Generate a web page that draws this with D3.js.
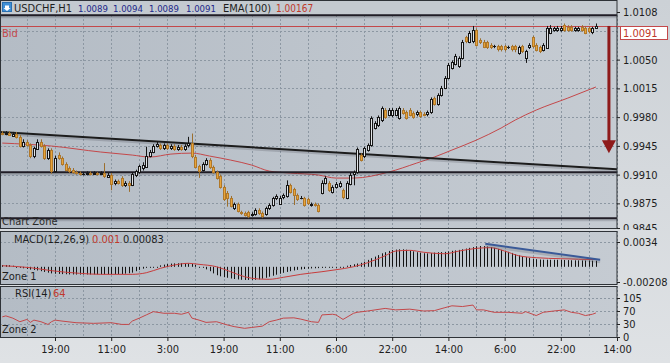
<!DOCTYPE html>
<html>
<head>
<meta charset="utf-8">
<script src="https://cdnjs.cloudflare.com/ajax/libs/d3/7.8.5/d3.min.js"></script>
<style>
  body { margin: 0; background: #cfd3d7; }
  svg { display: block; font-family: "Liberation Sans Narrow", "DejaVu Sans Condensed", sans-serif; }
</style>
</head>
<body>
<svg id="chart"></svg>
<script>
// USDCHF H1 candles, bar 0 .. 169
const opens = [
  0.9961,0.9960,0.9961,0.9958,0.9960,0.9956,0.9945,0.9950,0.9946,0.9932,
  0.9942,0.9950,0.9945,0.9930,0.9940,0.9914,0.9934,0.9930,0.9923,0.9918,
  0.9916,0.9913,0.9912,0.9911,0.9911,0.9912,0.9911,0.9912,0.9911,0.9912,
  0.9908,0.9910,0.9899,0.9902,0.9906,0.9897,0.9900,0.9898,0.9909,0.9913,
  0.9918,0.9920,0.9933,0.9938,0.9945,0.9946,0.9942,0.9946,0.9942,0.9945,
  0.9941,0.9944,0.9941,0.9945,0.9948,0.9932,0.9920,0.9916,0.9923,0.9928,
  0.9919,0.9913,0.9908,0.9895,0.9888,0.9882,0.9869,0.9874,0.9864,0.9863,
  0.9864,0.9861,0.9862,0.9867,0.9863,0.9862,0.9869,0.9873,0.9881,0.9875,
  0.9882,0.9884,0.9897,0.9892,0.9885,0.9882,0.9881,0.9880,0.9873,0.9874,
  0.9873,0.9888,0.9900,0.9900,0.9889,0.9895,0.9896,0.9891,0.9882,0.9899,
  0.9910,0.9913,0.9934,0.9932,0.9940,0.9946,0.9967,0.9970,0.9976,0.9989,
  0.9983,0.9983,0.9983,0.9979,0.9989,0.9986,0.9989,0.9985,0.9983,0.9986,
  0.9984,0.9983,0.9986,1.0003,0.9996,1.0007,1.0016,1.0028,1.0040,1.0045,
  1.0042,1.0052,1.0077,1.0072,1.0072,1.0086,1.0074,1.0072,1.0071,1.0068,
  1.0066,1.0066,1.0066,1.0066,1.0065,1.0066,1.0066,1.0058,1.0066,1.0052,
  1.0065,1.0077,1.0068,1.0065,1.0062,1.0065,1.0083,1.0086,1.0086,1.0086,
  1.0092,1.0090,1.0090,1.0086,1.0086,1.0090,1.0089,1.0088,1.0083,1.0089
];
const highs = [
  0.9963,0.9963,0.9963,0.9962,0.9962,0.9958,0.9953,0.9952,0.9948,0.9944,
  0.9953,0.9953,0.9947,0.9942,0.9942,0.9933,0.9937,0.9932,0.9925,0.9920,
  0.9918,0.9915,0.9914,0.9913,0.9914,0.9914,0.9914,0.9913,0.9914,0.9924,
  0.9912,0.9912,0.9904,0.9904,0.9908,0.9902,0.9902,0.9913,0.9916,0.9922,
  0.9925,0.9944,0.9940,0.9947,0.9950,0.9948,0.9948,0.9948,0.9947,0.9947,
  0.9946,0.9946,0.9947,0.9956,0.9960,0.9934,0.9922,0.9925,0.9930,0.9930,
  0.9921,0.9915,0.9910,0.9897,0.9890,0.9884,0.9876,0.9876,0.9866,0.9865,
  0.9866,0.9864,0.9869,0.9869,0.9865,0.9871,0.9875,0.9883,0.9886,0.9884,
  0.9887,0.9903,0.9899,0.9894,0.9887,0.9884,0.9883,0.9882,0.9876,0.9876,
  0.9875,0.9903,0.9908,0.9902,0.9897,0.9901,0.9902,0.9893,0.9902,0.9912,
  0.9915,0.9943,0.9936,0.9944,0.9948,0.9981,0.9975,0.9982,0.9993,0.9991,
  0.9991,0.9991,0.9991,0.9993,0.9991,0.9988,0.9991,0.9987,0.9988,0.9988,
  0.9986,0.9988,1.0004,1.0005,1.0009,1.0018,1.0030,1.0046,1.0049,1.0057,
  1.0054,1.0074,1.0079,1.0085,1.0091,1.0088,1.0076,1.0074,1.0073,1.0070,
  1.0068,1.0068,1.0068,1.0068,1.0067,1.0068,1.0068,1.0067,1.0068,1.0062,
  1.0070,1.0079,1.0070,1.0067,1.0070,1.0091,1.0092,1.0090,1.0091,1.0091,
  1.0094,1.0092,1.0092,1.0090,1.0090,1.0092,1.0091,1.0090,1.0090,1.0094
];
const lows = [
  0.9958,0.9958,0.9957,0.9956,0.9954,0.9943,0.9943,0.9944,0.9930,0.9930,
  0.9940,0.9943,0.9928,0.9928,0.9911,0.9912,0.9928,0.9921,0.9914,0.9912,
  0.9911,0.9910,0.9909,0.9909,0.9909,0.9909,0.9910,0.9909,0.9910,0.9906,
  0.9906,0.9891,0.9897,0.9898,0.9895,0.9895,0.9889,0.9896,0.9907,0.9911,
  0.9915,0.9918,0.9931,0.9936,0.9943,0.9940,0.9940,0.9940,0.9940,0.9939,
  0.9939,0.9939,0.9939,0.9943,0.9930,0.9918,0.9906,0.9914,0.9921,0.9917,
  0.9911,0.9904,0.9893,0.9878,0.9871,0.9870,0.9867,0.9864,0.9861,0.9859,
  0.9857,0.9859,0.9860,0.9861,0.9857,0.9860,0.9867,0.9871,0.9879,0.9873,
  0.9880,0.9882,0.9887,0.9873,0.9878,0.9880,0.9871,0.9873,0.9871,0.9871,
  0.9864,0.9886,0.9898,0.9889,0.9887,0.9893,0.9894,0.9880,0.9880,0.9897,
  0.9897,0.9911,0.9926,0.9930,0.9938,0.9944,0.9965,0.9968,0.9974,0.9978,
  0.9981,0.9980,0.9981,0.9977,0.9983,0.9977,0.9981,0.9978,0.9981,0.9979,
  0.9981,0.9981,0.9984,0.9994,0.9994,1.0005,1.0014,1.0026,1.0038,1.0043,
  1.0040,1.0050,1.0070,1.0070,1.0070,1.0066,1.0069,1.0064,1.0063,1.0063,
  1.0064,1.0060,1.0060,1.0060,1.0063,1.0060,1.0059,1.0056,1.0058,1.0046,
  1.0063,1.0064,1.0060,1.0058,1.0060,1.0063,1.0081,1.0084,1.0084,1.0084,
  1.0084,1.0084,1.0084,1.0084,1.0084,1.0084,1.0081,1.0082,1.0081,1.0089
];
const closes = [
  0.9960,0.9961,0.9958,0.9960,0.9956,0.9945,0.9950,0.9946,0.9932,0.9942,
  0.9950,0.9945,0.9930,0.9940,0.9914,0.9930,0.9930,0.9923,0.9916,0.9914,
  0.9913,0.9912,0.9911,0.9911,0.9912,0.9911,0.9912,0.9911,0.9912,0.9908,
  0.9910,0.9899,0.9902,0.9900,0.9897,0.9900,0.9898,0.9911,0.9914,0.9920,
  0.9922,0.9933,0.9938,0.9945,0.9947,0.9942,0.9946,0.9942,0.9945,0.9941,
  0.9944,0.9941,0.9945,0.9948,0.9932,0.9920,0.9914,0.9923,0.9928,0.9919,
  0.9913,0.9906,0.9895,0.9880,0.9882,0.9872,0.9874,0.9866,0.9863,0.9861,
  0.9859,0.9862,0.9867,0.9863,0.9859,0.9869,0.9873,0.9881,0.9884,0.9882,
  0.9885,0.9897,0.9889,0.9885,0.9880,0.9882,0.9873,0.9875,0.9874,0.9873,
  0.9866,0.9900,0.9906,0.9891,0.9895,0.9899,0.9900,0.9882,0.9900,0.9910,
  0.9913,0.9941,0.9928,0.9942,0.9946,0.9979,0.9973,0.9980,0.9991,0.9980,
  0.9989,0.9989,0.9989,0.9991,0.9985,0.9979,0.9983,0.9980,0.9986,0.9981,
  0.9983,0.9986,1.0002,0.9996,1.0007,1.0016,1.0028,1.0044,1.0047,1.0055,
  1.0052,1.0072,1.0072,1.0083,1.0086,1.0068,1.0071,1.0066,1.0065,1.0065,
  1.0066,1.0062,1.0062,1.0062,1.0065,1.0062,1.0062,1.0065,1.0060,1.0060,
  1.0068,1.0066,1.0062,1.0060,1.0068,1.0089,1.0089,1.0088,1.0089,1.0089,
  1.0086,1.0086,1.0086,1.0088,1.0088,1.0086,1.0083,1.0084,1.0088,1.0091
];

// EMA(100) read at some bars
const emaBars = [0,14,28,37,42,48,54,59,65,71, 76,82,90,95,100,110,118,123,128,135, 142,146,152,161,169];
const emaValues = [0.99484,0.99448,0.99375,0.99338,0.99314,0.99350,0.99362,0.99326,0.99277,0.99216,
  0.99143,0.99119,0.99095,0.99058,0.99058,0.99131,0.99241,0.99314,0.99399,0.99521,
  0.99667,0.99764,0.99886,1.00032,1.00167];

// MACD histogram, one per bar
const macdHist = [
  0.00025,0.00025,0.00022,0.00015,0.00005,-0.0001,-0.0002,-0.0003,-0.00038,-0.00044,
  -0.0005,-0.0006,-0.0007,-0.0008,-0.0009,-0.00095,-0.00097,-0.001,-0.00102,-0.00104,
  -0.00105,-0.00106,-0.00106,-0.00106,-0.00105,-0.00105,-0.00104,-0.00104,-0.00103,-0.00103,
  -0.00102,-0.00102,-0.00101,-0.001,-0.00098,-0.00094,-0.00088,-0.0008,-0.0006,-0.00042,
  -0.00025,-0.00012,-0.00004,0.00003,0.0001,0.0002,0.0003,0.00038,0.00044,0.00047,
  0.00049,0.0005,0.00049,0.00046,0.0004,0.00025,0.0001,-0.0001,-0.00035,-0.0006,
  -0.0009,-0.00115,-0.0013,-0.00142,-0.0015,-0.0016,-0.00167,-0.00173,-0.00178,-0.0018,
  -0.0018,-0.0018,-0.00178,-0.00172,-0.00162,-0.0015,-0.00136,-0.00122,-0.00108,-0.00095,
  -0.00082,-0.0007,-0.0006,-0.0005,-0.00042,-0.00036,-0.0003,-0.00026,-0.00022,-0.0002,
  -0.00018,-0.00015,-0.00012,-0.0001,-0.00008,-0.00005,0,0.00008,0.00015,0.00025,
  0.00035,0.00045,0.00055,0.0007,0.00095,0.00118,0.0014,0.0016,0.00185,0.002,
  0.00218,0.0023,0.00236,0.0024,0.0024,0.00235,0.00225,0.00212,0.002,0.00192,
  0.00186,0.00184,0.00188,0.00195,0.002,0.00202,0.00205,0.00212,0.0022,0.00225,
  0.00232,0.0024,0.0025,0.0026,0.0027,0.00282,0.00285,0.00284,0.00278,0.0027,
  0.0026,0.00245,0.00232,0.0022,0.00205,0.0019,0.00172,0.00158,0.00145,0.00133,
  0.0012,0.00112,0.00105,0.001,0.00097,0.00097,0.00097,0.00096,0.00096,0.00095,
  0.00094,0.00092,0.0009,0.00089,0.00088,0.00087,0.00086,0.00085,0.00084,0.00083
];
// MACD signal line read at some bars
const sigBars = [0,8,14,22,28,37,41,45,49,53, 56,61,65,69,73,76,80,85,91,95, 100,104,109,112,116,120,126,130,135,139, 143,147,152,159,169];
const sigValues = [0.00015,-0.00012,-0.00053,-0.00089,-0.00103,-0.00103,-0.00081,-0.00021,0.00025,0.00048,
  0.00034,0.00001,-0.00067,-0.00136,-0.00167,-0.00171,-0.00144,-0.00103,-0.00067,-0.0004,
  0.00001,0.00056,0.00152,0.00216,0.00226,0.00199,0.00179,0.00216,0.00253,0.00262,
  0.00216,0.00152,0.00125,0.00111,0.001];

// RSI(14) read at some bars
const rsiBars = [0,1,3,5,7,8,9,11,13,14, 15,17,21,26,31,34,36,37,39,41,
  43,46,49,51,53,54,56,58,61,64, 66,69,71,74,76,78,80,83,85,88,
  90,91,94,95,97,100,101,104,109,112, 116,120,123,126,128,131,134,135,137,140,
  144,148,149,152,154,157,160,162,164,166, 168,169];
const rsiValues = [52,55,48,37,44,35,42,37,29,37, 42,39,34,32,34,29,29,39,48,58,
  68,63,63,60,66,48,42,35,37,28, 24,20,22,25,37,42,48,49,45,37,
  35,58,60,58,44,63,66,70,77,73, 75,70,71,79,84,82,86,73,73,66,
  66,63,68,56,66,70,73,66,63,56, 60,64];

// drawn objects: [bar, value]
const trendLine = [[-0.7, 0.99618], [175, 0.99164]];
const hLines = [1.0104, 0.9913, 0.9857];
const arrowLine = [[172.7, 1.0091], [172.7, 0.9936]];
const macdTrend = [[137.5, 0.00316], [170.2, 0.00097]];

// axes
const priceGrid = [1.0085, 1.0050, 1.0015, 0.9980, 0.9945, 0.9910, 0.9875];
const priceLabels = [1.0108, 1.0050, 1.0015, 0.9980, 0.9945, 0.9910, 0.9875, 0.9845];
const macdTicks = [0.0034, -0.00208];
const macdTickText = ["0.0034", "-0.00208"];
const rsiTicks = [105, 70, 30, 0];
const timeBars = [15, 31, 47, 63, 79, 95, 111, 127, 143, 159, 175];
const timeLabels = ["19:00","11:00","3:00","19:00","11:00","6:00","22:00","14:00","6:00","22:00","14:00"];
const gridBars = d3.range(7, 176, 8);

const bid = closes[closes.length - 1];
const title = { symbol: "USDCHF,H1", ohlc: ["1.0089","1.0094","1.0089","1.0091"], ema: "EMA(100)", emaVal: "1.00167" };

// ---- setup
const W = 670, H = 363, plotR = 617;
const panels = {
  price: { top: 0, bottom: 228 },
  macd: { top: 231, bottom: 284 },
  rsi: { top: 286, bottom: 337 }
};

const svg = d3.select("#chart").attr("width", W).attr("height", H);
const defs = svg.append("defs");

const bgGrad = defs.append("linearGradient").attr("id", "bgGrad").attr("x1", 0).attr("y1", 0).attr("x2", 0).attr("y2", 1);
bgGrad.append("stop").attr("offset", "0%").attr("stop-color", "#ccd1d6");
bgGrad.append("stop").attr("offset", "100%").attr("stop-color", "#dfe2e5");

const panelGrad = defs.append("linearGradient").attr("id", "panelGrad").attr("x1", 0).attr("y1", 0).attr("x2", 1).attr("y2", 0);
panelGrad.append("stop").attr("offset", "0%").attr("stop-color", "#b4bcc5");
panelGrad.append("stop").attr("offset", "100%").attr("stop-color", "#c5cbd2");

Object.entries(panels).forEach(([k, p]) => {
  defs.append("clipPath").attr("id", "clip-" + k)
    .append("rect").attr("x", 0).attr("y", p.top).attr("width", plotR).attr("height", p.bottom - p.top);
});
defs.append("clipPath").attr("id", "clip-paxis")
  .append("rect").attr("x", plotR).attr("y", 0).attr("width", W - plotR).attr("height", 230);

svg.append("rect").attr("width", W).attr("height", H).attr("fill", "url(#bgGrad)");

Object.values(panels).forEach(p => {
  svg.append("rect").attr("x", 0).attr("y", p.top).attr("width", plotR).attr("height", p.bottom - p.top)
    .attr("fill", "url(#panelGrad)");
});

// title strip
svg.append("rect").attr("x", 0).attr("y", 0).attr("width", plotR).attr("height", 14).attr("fill", "#c4cad0");

// scales
const x = d3.scaleLinear().domain([0, 175]).range([2.3, plotR]);
const yPrice = d3.scaleLinear().domain([0.9845, 1.0108]).range([228, 12]);
const yMacd = d3.scaleLinear().domain([-0.00208, 0.0034]).range([282, 242]);
const yRsi = d3.scaleLinear().domain([0, 30, 70, 105]).range([337, 324, 311, 298]);
const px = i => Math.round(x(i)) + 0.5;

// grid
const grid = svg.append("g").attr("stroke", "#8c97a2").attr("stroke-dasharray", "2,2").attr("stroke-width", 1);
const vTop = { price: 15, macd: panels.macd.top, rsi: panels.rsi.top };
Object.entries(panels).forEach(([k, p]) => {
  grid.append("g").selectAll("line").data(gridBars).join("line")
    .attr("x1", d => px(d)).attr("x2", d => px(d))
    .attr("y1", vTop[k]).attr("y2", p.bottom);
});
grid.append("g").selectAll("line").data(priceGrid).join("line")
  .attr("x1", 0).attr("x2", plotR)
  .attr("y1", d => Math.round(yPrice(d)) + 0.5).attr("y2", d => Math.round(yPrice(d)) + 0.5);
grid.append("g").selectAll("line").data([0.0034]).join("line")
  .attr("x1", 0).attr("x2", plotR)
  .attr("y1", d => Math.round(yMacd(d)) + 0.5).attr("y2", d => Math.round(yMacd(d)) + 0.5);
grid.append("g").selectAll("line").data([105, 70, 30]).join("line")
  .attr("x1", 0).attr("x2", plotR)
  .attr("y1", d => Math.round(yRsi(d)) + 0.5).attr("y2", d => Math.round(yRsi(d)) + 0.5);

// ---- price panel
const pg = svg.append("g").attr("clip-path", "url(#clip-price)");

// bid line
pg.append("line").attr("x1", 0).attr("x2", plotR)
  .attr("y1", Math.round(yPrice(bid)) + 0.5).attr("y2", Math.round(yPrice(bid)) + 0.5)
  .attr("stroke", "#c4484a").attr("stroke-width", 1);

// EMA
pg.append("path")
  .datum(emaBars.map((b, k) => [b, emaValues[k]]))
  .attr("fill", "none").attr("stroke", "#c4484a").attr("stroke-width", 1)
  .attr("d", d3.line().x(d => x(d[0])).y(d => yPrice(d[1])).curve(d3.curveMonotoneX));

// horizontal lines + trendline (with a soft shadow)
pg.append("g").selectAll("line").data(hLines).join("line")
  .attr("x1", 0).attr("x2", plotR)
  .attr("y1", d => yPrice(d) + 2).attr("y2", d => yPrice(d) + 2)
  .attr("stroke", "rgba(40,40,50,0.18)").attr("stroke-width", 2);
pg.append("g").selectAll("line").data(hLines).join("line")
  .attr("x1", 0).attr("x2", plotR)
  .attr("y1", d => yPrice(d)).attr("y2", d => yPrice(d))
  .attr("stroke", "#201d26").attr("stroke-width", 2);

pg.append("line")
  .attr("x1", x(trendLine[0][0])).attr("y1", yPrice(trendLine[0][1]) + 2)
  .attr("x2", x(trendLine[1][0])).attr("y2", yPrice(trendLine[1][1]) + 2)
  .attr("stroke", "rgba(40,40,50,0.18)").attr("stroke-width", 2);
pg.append("line")
  .attr("x1", x(trendLine[0][0])).attr("y1", yPrice(trendLine[0][1]))
  .attr("x2", x(trendLine[1][0])).attr("y2", yPrice(trendLine[1][1]))
  .attr("stroke", "#1c1c1c").attr("stroke-width", 2);

// candles
const bars = closes.map((c, i) => ({ i, o: opens[i], h: highs[i], l: lows[i], c }));
const cg = pg.append("g");
cg.selectAll("line.wick").data(bars).join("line").attr("class", "wick")
  .attr("x1", d => px(d.i)).attr("x2", d => px(d.i))
  .attr("y1", d => yPrice(d.h)).attr("y2", d => yPrice(d.l))
  .attr("stroke", d => d.c < d.o ? "#9c6f2e" : "#151515").attr("stroke-width", 1);
cg.selectAll("rect.body").data(bars.filter(d => d.c !== d.o)).join("rect").attr("class", "body")
  .attr("x", d => px(d.i) - 1)
  .attr("y", d => Math.round(yPrice(Math.max(d.o, d.c))) + 0.5)
  .attr("width", 2)
  .attr("height", d => Math.max(1, Math.round(Math.abs(yPrice(d.o) - yPrice(d.c)))))
  .attr("fill", d => d.c > d.o ? "#e2e5e8" : "#e8a53b")
  .attr("stroke", d => d.c > d.o ? "#161616" : "#b0782a").attr("stroke-width", 1);
cg.selectAll("line.doji").data(bars.filter(d => d.c === d.o)).join("line").attr("class", "doji")
  .attr("x1", d => px(d.i) - 1.5).attr("x2", d => px(d.i) + 1.5)
  .attr("y1", d => Math.round(yPrice(d.o)) + 0.5).attr("y2", d => Math.round(yPrice(d.o)) + 0.5)
  .attr("stroke", "#151515").attr("stroke-width", 1);

// red arrow
const ax = x(arrowLine[0][0]);
const ayTop = yPrice(arrowLine[0][1]), ayTip = yPrice(arrowLine[1][1]);
pg.append("line").attr("x1", ax).attr("x2", ax).attr("y1", ayTop).attr("y2", ayTip - 10)
  .attr("stroke", "#8e1a1a").attr("stroke-width", 3);
pg.append("path")
  .attr("d", `M${ax - 7},${ayTip - 13} L${ax + 7},${ayTip - 13} L${ax},${ayTip} Z`)
  .attr("fill", "#8e1a1a");

// ---- MACD panel
const mg = svg.append("g").attr("clip-path", "url(#clip-macd)");
mg.append("g").selectAll("line").data(macdHist).join("line")
  .attr("x1", (d, i) => px(i)).attr("x2", (d, i) => px(i))
  .attr("y1", yMacd(0)).attr("y2", d => Math.abs(yMacd(d) - yMacd(0)) < 1 ? yMacd(0) + 1 : yMacd(d))
  .attr("stroke", "#141414").attr("stroke-width", 1);
mg.append("path")
  .datum(sigBars.map((b, k) => [b, sigValues[k]]))
  .attr("fill", "none").attr("stroke", "#c83c3c").attr("stroke-width", 1)
  .attr("d", d3.line().x(d => x(d[0])).y(d => yMacd(d[1])).curve(d3.curveMonotoneX));
mg.append("line")
  .attr("x1", x(macdTrend[0][0])).attr("y1", yMacd(macdTrend[0][1]) + 2)
  .attr("x2", x(macdTrend[1][0])).attr("y2", yMacd(macdTrend[1][1]) + 2)
  .attr("stroke", "rgba(60,60,70,0.2)").attr("stroke-width", 3);
mg.append("line")
  .attr("x1", x(macdTrend[0][0])).attr("y1", yMacd(macdTrend[0][1]))
  .attr("x2", x(macdTrend[1][0])).attr("y2", yMacd(macdTrend[1][1]))
  .attr("stroke", "#3a5a98").attr("stroke-width", 2);

// ---- RSI panel
const rg = svg.append("g").attr("clip-path", "url(#clip-rsi)");
rg.append("path")
  .datum(rsiBars.map((b, k) => [b, rsiValues[k]]))
  .attr("fill", "none").attr("stroke", "#c4484a").attr("stroke-width", 1)
  .attr("d", d3.line().x(d => x(d[0])).y(d => yRsi(d[1])));

// panel borders
Object.values(panels).forEach(p => {
  svg.append("rect").attr("x", 0.5).attr("y", p.top + 0.5).attr("width", plotR - 0.5).attr("height", p.bottom - p.top)
    .attr("fill", "none").attr("stroke", "#2e3237").attr("stroke-width", 1);
});

// ---- axes
function styleAxis(g) {
  g.select(".domain").remove();
  g.selectAll(".tick line").attr("stroke", "#222");
  g.selectAll(".tick text").attr("fill", "#1e1e1e").attr("font-size", 11)
    .attr("font-family", "'Liberation Sans Narrow', 'DejaVu Sans Condensed', sans-serif");
}
svg.append("g").attr("clip-path", "url(#clip-paxis)")
  .append("g").attr("transform", `translate(${plotR},0)`)
  .call(d3.axisRight(yPrice).tickValues(priceLabels).tickFormat(d3.format(".4f")).tickSize(3).tickPadding(3))
  .call(styleAxis);
svg.append("g").attr("transform", `translate(${plotR},0)`)
  .call(d3.axisRight(yMacd).tickValues(macdTicks).tickFormat((d, i) => macdTickText[i]).tickSize(3).tickPadding(3))
  .call(styleAxis);
svg.append("g").attr("transform", `translate(${plotR},0)`)
  .call(d3.axisRight(yRsi).tickValues(rsiTicks).tickFormat(d3.format("d")).tickSize(3).tickPadding(3))
  .call(styleAxis);
svg.append("g").attr("transform", `translate(0,${panels.rsi.bottom})`)
  .call(d3.axisBottom(x).tickValues(timeBars).tickFormat((d, i) => timeLabels[i]).tickSize(4).tickPadding(4))
  .call(styleAxis);

// bid price label
const by = Math.round(yPrice(bid)) + 0.5;
svg.append("line").attr("x1", plotR).attr("x2", plotR + 3).attr("y1", by).attr("y2", by).attr("stroke", "#c4484a");
svg.append("rect").attr("x", 620.5).attr("y", by).attr("width", 47).attr("height", 13)
  .attr("fill", "#ffffff").attr("stroke", "#c4484a");
svg.append("text").attr("x", 623).attr("y", by + 10.5).attr("font-size", 11).attr("fill", "#c0392b")
  .text(d3.format(".4f")(bid));

// ---- labels
const txt = (t, xx, yy, color, size) => svg.append("text").attr("x", xx).attr("y", yy)
  .attr("font-size", size || 11).attr("fill", color || "#1e1e1e").text(t);

// title
svg.append("rect").attr("x", 2.5).attr("y", 2.5).attr("width", 9).attr("height", 9)
  .attr("fill", "#3f8fd6").attr("stroke", "#2a6fb0");
svg.append("path").attr("d", "M5,5.5 L9,5.5 L9,8 L10.5,8 L7,11 L3.5,8 L5,8 Z").attr("fill", "#fff");
txt(title.symbol, 14, 11.5);
[78, 113, 149, 186].forEach((xx, k) => txt(title.ohlc[k], xx, 11.5, "#22288a", 9.5));
txt(title.ema, 223, 11.5);
txt(title.emaVal, 276, 11.5, "#c0392b", 10);

txt("Bid", 2, 37, "#c4484a");
txt("Chart Zone", 2, 225, "#2a2a2a");

txt("MACD(12,26,9)", 14, 243);
txt("0.001", 92, 243, "#c0392b");
txt("0.00083", 123, 243);
txt("Zone 1", 2, 280);

txt("RSI(14)", 15, 297);
txt("64", 53, 297, "#c0392b");
txt("Zone 2", 2, 333);
</script>
</body>
</html>
